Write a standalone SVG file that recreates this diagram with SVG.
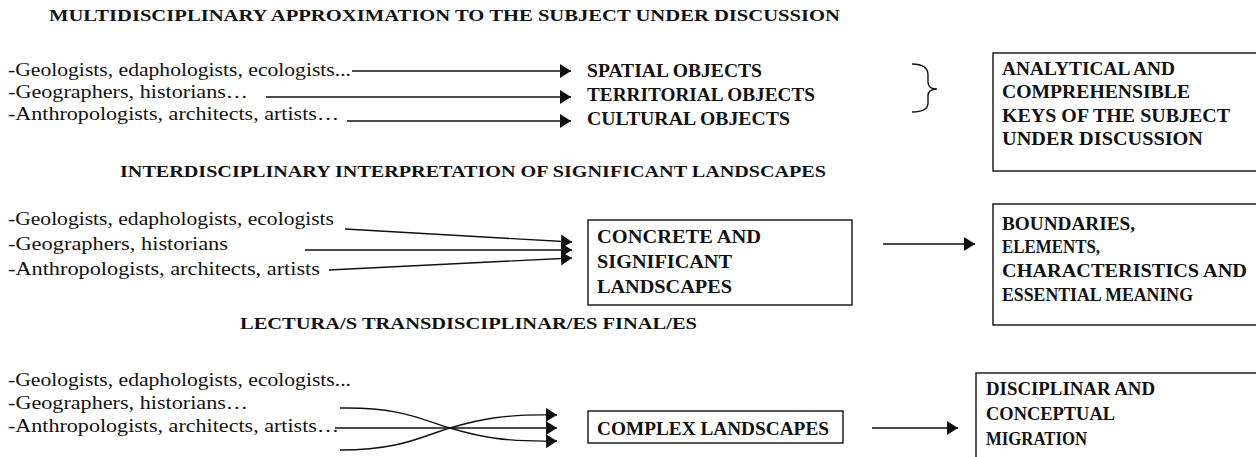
<svg xmlns="http://www.w3.org/2000/svg" width="1256" height="457" viewBox="0 0 1256 457" font-family="'Liberation Serif', 'DejaVu Serif', serif">
<style>
text{font-family:'Liberation Serif','DejaVu Serif',serif;fill:#111}
.t{font-size:16px;font-weight:bold}
.n{font-size:19px}
.b{font-size:18px;font-weight:bold}
.ln{fill:none;stroke:#111;stroke-width:1.4}
.box{fill:#fff;stroke:#111;stroke-width:1.4}
</style>
<defs>
<marker id="ah" markerUnits="userSpaceOnUse" markerWidth="13" markerHeight="15" refX="11" refY="7" orient="auto">
<path d="M0,0 L11,7 L0,14 z" fill="#111"/>
</marker>
</defs>

<g id="titles">
<text class="t" x="49" y="21" textLength="791" lengthAdjust="spacingAndGlyphs">MULTIDISCIPLINARY APPROXIMATION TO THE SUBJECT UNDER DISCUSSION</text>
<text class="t" x="120" y="177" textLength="706" lengthAdjust="spacingAndGlyphs">INTERDISCIPLINARY INTERPRETATION OF SIGNIFICANT LANDSCAPES</text>
<text class="t" x="240" y="329" textLength="457" lengthAdjust="spacingAndGlyphs">LECTURA/S TRANSDISCIPLINAR/ES FINAL/ES</text>
</g>

<g id="row1-sources">
<text class="n" x="8" y="76" textLength="343" lengthAdjust="spacingAndGlyphs">-Geologists, edaphologists, ecologists...</text>
<text class="n" x="8" y="98" textLength="240" lengthAdjust="spacingAndGlyphs">-Geographers, historians…</text>
<text class="n" x="8" y="120" textLength="331" lengthAdjust="spacingAndGlyphs">-Anthropologists, architects, artists…</text>
</g>

<g id="row1-objects">
<text class="b" x="587" y="77" textLength="175" lengthAdjust="spacingAndGlyphs">SPATIAL OBJECTS</text>
<text class="b" x="587" y="101" textLength="228" lengthAdjust="spacingAndGlyphs">TERRITORIAL OBJECTS</text>
<text class="b" x="587" y="125" textLength="203" lengthAdjust="spacingAndGlyphs">CULTURAL OBJECTS</text>
</g>

<g id="brace">
<path class="ln" d="M912,64 C922,64 928,67 928,75 L928,82 C928,86 931,89 937,89 C931,89 928,92 928,96 L928,103 C928,110 922,112 912,112"/>
</g>

<g id="box-keys">
<rect class="box" x="993" y="53" width="280" height="118"/>
<text class="b" x="1002" y="75" textLength="173" lengthAdjust="spacingAndGlyphs">ANALYTICAL AND</text>
<text class="b" x="1002" y="98" textLength="188" lengthAdjust="spacingAndGlyphs">COMPREHENSIBLE</text>
<text class="b" x="1002" y="122" textLength="228" lengthAdjust="spacingAndGlyphs">KEYS OF THE SUBJECT</text>
<text class="b" x="1002" y="145" textLength="201" lengthAdjust="spacingAndGlyphs">UNDER DISCUSSION</text>
</g>

<g id="row2-sources">
<text class="n" x="8" y="225" textLength="326" lengthAdjust="spacingAndGlyphs">-Geologists, edaphologists, ecologists</text>
<text class="n" x="8" y="250" textLength="220" lengthAdjust="spacingAndGlyphs">-Geographers, historians</text>
<text class="n" x="8" y="275" textLength="312" lengthAdjust="spacingAndGlyphs">-Anthropologists, architects, artists</text>
</g>

<g id="box-concrete">
<rect class="box" x="588" y="220" width="264" height="85"/>
<text class="b" x="597" y="243" textLength="164" lengthAdjust="spacingAndGlyphs">CONCRETE AND</text>
<text class="b" x="597" y="268" textLength="135" lengthAdjust="spacingAndGlyphs">SIGNIFICANT</text>
<text class="b" x="597" y="293" textLength="135" lengthAdjust="spacingAndGlyphs">LANDSCAPES</text>
</g>

<g id="box-boundaries">
<rect class="box" x="993" y="204" width="280" height="121"/>
<text class="b" x="1002" y="230" textLength="133" lengthAdjust="spacingAndGlyphs">BOUNDARIES,</text>
<text class="b" x="1002" y="253" textLength="98" lengthAdjust="spacingAndGlyphs">ELEMENTS,</text>
<text class="b" x="1002" y="277" textLength="245" lengthAdjust="spacingAndGlyphs">CHARACTERISTICS AND</text>
<text class="b" x="1002" y="301" textLength="191" lengthAdjust="spacingAndGlyphs">ESSENTIAL MEANING</text>
</g>

<g id="row3-sources">
<text class="n" x="8" y="386" textLength="343" lengthAdjust="spacingAndGlyphs">-Geologists, edaphologists, ecologists...</text>
<text class="n" x="8" y="409" textLength="240" lengthAdjust="spacingAndGlyphs">-Geographers, historians…</text>
<text class="n" x="8" y="432" textLength="331" lengthAdjust="spacingAndGlyphs">-Anthropologists, architects, artists…</text>
</g>

<g id="box-complex">
<rect class="box" x="588" y="411" width="255" height="32"/>
<text class="b" x="597" y="435" textLength="232" lengthAdjust="spacingAndGlyphs">COMPLEX LANDSCAPES</text>
</g>

<g id="box-migration">
<rect class="box" x="976" y="373" width="300" height="100"/>
<text class="b" x="986" y="395" textLength="169" lengthAdjust="spacingAndGlyphs">DISCIPLINAR AND</text>
<text class="b" x="986" y="420" textLength="129" lengthAdjust="spacingAndGlyphs">CONCEPTUAL</text>
<text class="b" x="986" y="445" textLength="101" lengthAdjust="spacingAndGlyphs">MIGRATION</text>
</g>

<g id="connectors">
<line class="ln" x1="352" y1="71" x2="571" y2="71" marker-end="url(#ah)"/>
<line class="ln" x1="266" y1="97" x2="571" y2="97" marker-end="url(#ah)"/>
<line class="ln" x1="347" y1="121" x2="571" y2="121" marker-end="url(#ah)"/>

<line class="ln" x1="345" y1="229" x2="572" y2="242" marker-end="url(#ah)"/>
<line class="ln" x1="305" y1="250" x2="572" y2="250" marker-end="url(#ah)"/>
<line class="ln" x1="329" y1="270" x2="572" y2="258" marker-end="url(#ah)"/>
<line class="ln" x1="883" y1="244" x2="975" y2="244" marker-end="url(#ah)"/>

<path class="ln" d="M340,408 C400,407 420,419 450,428 C480,437 505,442 557,441" marker-end="url(#ah)"/>
<path class="ln" d="M335,428 L557,428" marker-end="url(#ah)"/>
<path class="ln" d="M340,450 C400,450 420,437 450,428 C480,419 505,414 557,415" marker-end="url(#ah)"/>
<line class="ln" x1="872" y1="428" x2="958" y2="428" marker-end="url(#ah)"/>
</g>
</svg>
